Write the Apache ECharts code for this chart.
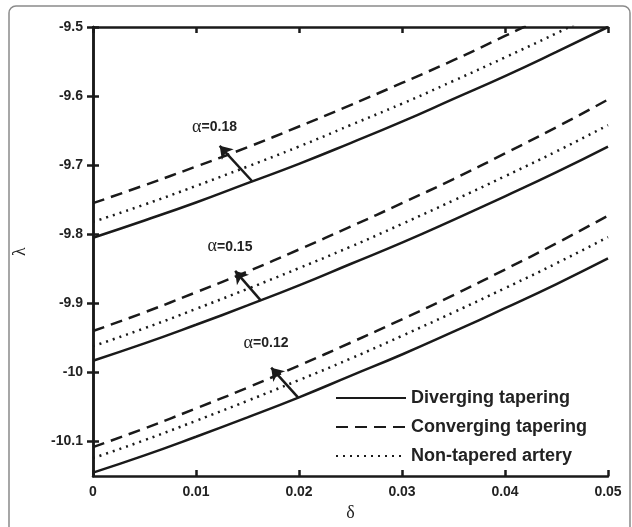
<!DOCTYPE html>
<html>
<head>
<meta charset="utf-8">
<script src="https://cdn.jsdelivr.net/npm/echarts@6/dist/echarts.min.js"></script>
<style>
html,body{margin:0;padding:0;background:#fff;}
#chart{width:632px;height:527px;}
</style>
</head>
<body>
<div id="chart"></div>
<script>
// delta values along the x axis
const delta = [0, 0.005, 0.01, 0.015, 0.02, 0.025, 0.03, 0.035, 0.04, 0.045, 0.05];

// alpha = 0.18
const div18 = [-9.805, -9.780, -9.754, -9.726, -9.698, -9.668, -9.637, -9.604, -9.571, -9.536, -9.500];
const con18 = [-9.755, -9.729, -9.702, -9.674, -9.644, -9.613, -9.581, -9.548, -9.513, -9.477, -9.440];
const non18 = [-9.782, -9.757, -9.730, -9.702, -9.673, -9.642, -9.611, -9.578, -9.544, -9.509, -9.472];
// alpha = 0.15
const div15 = [-9.983, -9.958, -9.931, -9.903, -9.874, -9.843, -9.812, -9.779, -9.745, -9.710, -9.673];
const con15 = [-9.940, -9.913, -9.884, -9.854, -9.822, -9.789, -9.755, -9.720, -9.683, -9.645, -9.605];
const non15 = [-9.962, -9.936, -9.908, -9.879, -9.849, -9.818, -9.785, -9.751, -9.716, -9.680, -9.642];
// alpha = 0.12
const div12 = [-10.145, -10.120, -10.093, -10.065, -10.036, -10.005, -9.974, -9.941, -9.907, -9.872, -9.835];
const con12 = [-10.108, -10.081, -10.052, -10.022, -9.990, -9.957, -9.923, -9.888, -9.851, -9.813, -9.773];
const non12 = [-10.124, -10.098, -10.070, -10.041, -10.011, -9.980, -9.947, -9.913, -9.878, -9.842, -9.804];

const yTicks = [-10.1, -10, -9.9, -9.8, -9.7, -9.6, -9.5];
const names = ['Diverging tapering', 'Converging tapering', 'Non-tapered artery'];

// arrows: [from, to] and alpha labels
const arrows = [
    [[0.0155, -9.724], [0.0123, -9.672]],
    [[0.0163, -9.896], [0.0138, -9.853]],
    [[0.0199, -10.036], [0.0173, -9.993]]
];
const alphaLabels = [
    ['0.18', 0.0118, -9.645],
    ['0.15', 0.0133, -9.818],
    ['0.12', 0.0168, -9.958]
];

const ink = '#1a1a1a';
const dashType = [12, 7];
const dotType = [2, 5];

function pairs(ys) {
    return delta.map(function (x, i) { return [x, ys[i]]; });
}
function curve(name, ys, type) {
    return {
        name: name,
        type: 'line',
        data: pairs(ys),
        symbol: 'none',
        smooth: true,
        clip: true,
        silent: true,
        itemStyle: { color: ink },
        lineStyle: { color: ink, width: 2.5, type: type, cap: 'butt' }
    };
}

const chart = echarts.init(document.getElementById('chart'));

const option = {
    animation: false,
    textStyle: { fontFamily: 'Liberation Sans' },
    graphic: [{
        type: 'rect',
        shape: { x: 9, y: 6, width: 621, height: 540, r: 7 },
        style: { fill: 'none', stroke: '#8a8a8a', lineWidth: 1.5 },
        silent: true
    }],
    grid: { left: 93, right: 24, top: 27, bottom: 45, containLabel: false },
    legend: {
        data: names,
        orient: 'vertical',
        left: 330,
        top: 384,
        itemWidth: 70,
        itemHeight: 14,
        itemGap: 11,
        itemStyle: { opacity: 0 },
        textStyle: { color: '#222', fontSize: 18, fontWeight: 'bold', fontFamily: 'Liberation Sans' }
    },
    xAxis: [{
        type: 'value',
        min: 0,
        max: 0.05,
        interval: 0.01,
        name: 'δ',
        nameLocation: 'middle',
        nameGap: 26,
        nameTextStyle: { fontFamily: 'Liberation Serif', fontSize: 18, color: '#222' },
        axisLine: { lineStyle: { color: ink, width: 2.5 } },
        axisTick: { inside: true, length: 6, lineStyle: { color: ink, width: 2.5 } },
        axisLabel: { color: '#222', fontSize: 14, fontWeight: 'bold', margin: 9 },
        splitLine: { show: false }
    }, {
        type: 'value',
        position: 'top',
        min: 0,
        max: 0.05,
        interval: 0.01,
        axisLine: { lineStyle: { color: ink, width: 2.5 } },
        axisTick: { inside: true, length: 6, lineStyle: { color: ink, width: 2.5 } },
        axisLabel: { show: false },
        splitLine: { show: false }
    }],
    yAxis: [{
        type: 'value',
        min: -10.15,
        max: -9.5,
        name: 'λ',
        nameLocation: 'middle',
        nameRotate: 90,
        nameGap: 64,
        nameTextStyle: { fontFamily: 'Liberation Serif', fontSize: 18, color: '#222' },
        axisLine: { lineStyle: { color: ink, width: 2.5 } },
        axisTick: { inside: true, length: 6, customValues: yTicks, lineStyle: { color: ink, width: 2.5 } },
        axisLabel: { color: '#222', fontSize: 14, fontWeight: 'bold', margin: 10, customValues: yTicks },
        splitLine: { show: false }
    }, {
        type: 'value',
        position: 'right',
        min: -10.15,
        max: -9.5,
        axisLine: { lineStyle: { color: ink, width: 2.5 } },
        axisTick: { inside: true, length: 6, customValues: yTicks, lineStyle: { color: ink, width: 2.5 } },
        axisLabel: { show: false },
        splitLine: { show: false }
    }],
    series: [
        curve(names[0], div18, 'solid'),
        curve(names[1], con18, dashType),
        curve(names[2], non18, dotType),
        curve(names[0], div15, 'solid'),
        curve(names[1], con15, dashType),
        curve(names[2], non15, dotType),
        curve(names[0], div12, 'solid'),
        curve(names[1], con12, dashType),
        curve(names[2], non12, dotType),
        {
            name: 'notes',
            type: 'line',
            data: [],
            silent: true,
            itemStyle: { color: ink },
            markLine: {
                silent: true,
                symbol: ['none', 'arrow'],
                symbolSize: 12,
                label: { show: false },
                itemStyle: { color: ink },
                lineStyle: { color: ink, width: 2.5, type: 'solid' },
                data: arrows.map(function (a) {
                    return [{ coord: a[0] }, { coord: a[1] }];
                })
            },
            markPoint: {
                silent: true,
                symbol: 'circle',
                symbolSize: 0,
                label: {
                    show: true,
                    formatter: function (p) { return '{a|α}{b|=' + p.value + '}'; },
                    rich: {
                        a: { fontFamily: 'Liberation Serif', fontSize: 18, color: '#222' },
                        b: { fontFamily: 'Liberation Sans', fontSize: 14, fontWeight: 'bold', color: '#222' }
                    }
                },
                data: alphaLabels.map(function (l) {
                    return { coord: [l[1], l[2]], value: l[0] };
                })
            }
        }
    ]
};

chart.setOption(option);
window.addEventListener('resize', function () { chart.resize(); });
</script>
</body>
</html>
